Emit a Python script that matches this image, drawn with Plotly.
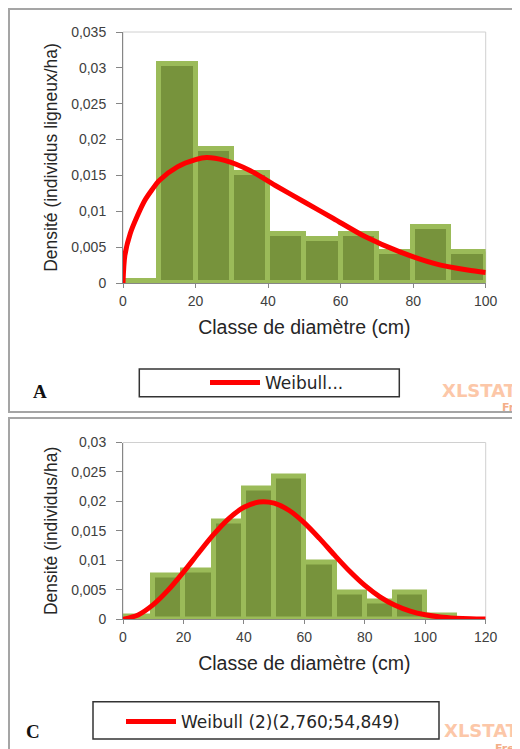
import plotly.graph_objects as go

# ---------------- data ----------------
# Panel A : histogram of diameter classes (lower bound of each 10 cm class)
class_start_A = [0, 10, 20, 30, 40, 50, 60, 70, 80, 90]
density_A = [0.0003, 0.0305, 0.0187, 0.0153, 0.0068, 0.0061, 0.0068, 0.0043, 0.0078, 0.0043]
# fitted Weibull curve of panel A
weibull_x_A = [0, 0.5, 2, 4, 6, 8, 10, 15, 20, 23, 28, 35, 42, 50, 58, 67, 76, 86, 95, 100]
weibull_y_A = [0, 0.0038, 0.0069, 0.0094, 0.0115, 0.0130, 0.0143, 0.0162, 0.0172, 0.0175,
               0.0171, 0.0157, 0.0136, 0.0113, 0.0090, 0.0064, 0.0044, 0.0027, 0.0018, 0.00145]

# Panel C
class_start_C = [0, 10, 20, 30, 40, 50, 60, 70, 80, 90, 100]
density_C = [0.0004, 0.0074, 0.0082, 0.0166, 0.0222, 0.0243, 0.0096, 0.0046, 0.0031, 0.0046, 0.0007]
weibull_x_C = [0, 5, 10, 15, 20, 25, 30, 35, 40, 45, 50, 55, 60, 65, 70, 75, 80, 85, 90, 95,
               100, 105, 110, 115, 120]
weibull_y_C = [0, 0.00074, 0.00249, 0.00499, 0.00801, 0.01126, 0.01440, 0.01709, 0.01900,
               0.01990, 0.01971, 0.01846, 0.01637, 0.01373, 0.01088, 0.00815, 0.00575,
               0.00382, 0.00238, 0.00139, 0.00076, 0.00039, 0.00019, 0.00008, 0.00003]

legend_A = "Weibull..."
legend_C = "Weibull (2)(2,760;54,849)"
label_A = "A"
label_C = "C"
x_title = "Classe de diamètre (cm)"
y_title_A = "Densité (individus ligneux/ha)"
y_title_C = "Densité (individus/ha)"

x_ticks_A = [0, 20, 40, 60, 80, 100]
x_ticks_C = [0, 20, 40, 60, 80, 100, 120]
y_ticks_A = [0, 0.005, 0.01, 0.015, 0.02, 0.025, 0.03, 0.035]
y_ticktext_A = ["0", "0,005", "0,01", "0,015", "0,02", "0,025", "0,03", "0,035"]
y_ticks_C = [0, 0.005, 0.01, 0.015, 0.02, 0.025, 0.03]
y_ticktext_C = ["0", "0,005", "0,01", "0,015", "0,02", "0,025", "0,03"]
class_width = 10

# ---------------- styling ----------------
# The page body keeps its default 8 px margin, so the figure is drawn 8 px
# smaller than the window and every reference pixel position is shifted by 8.
OFF = 8
W, H = 520 - OFF, 749 - OFF
def px(x):
    return (x - OFF) / W
def py(y):
    return 1 - (y - OFF) / H

BAR_FILL = "#77933C"
BAR_LINE = "#9BBB59"
RED = "#FF0000"
AXIS = "#868686"
TXT = "#262626"
TICKFONT = dict(family="Liberation Sans, Arial, sans-serif", size=14, color="#404040")
TITLEFONT = dict(family="Liberation Sans, Arial, sans-serif", size=19.5, color=TXT)

fig = go.Figure()

fig.add_trace(go.Bar(x=class_start_A, y=density_A, width=class_width, offset=0,
                     marker=dict(color=BAR_FILL, line=dict(color=BAR_LINE, width=5)),
                     xaxis="x", yaxis="y", showlegend=False))
fig.add_trace(go.Scatter(x=weibull_x_A, y=weibull_y_A, mode="lines", name=legend_A,
                         line=dict(color=RED, width=5, shape="spline", smoothing=0.8),
                         xaxis="x", yaxis="y", legend="legend"))

fig.add_trace(go.Bar(x=class_start_C, y=density_C, width=class_width, offset=0,
                     marker=dict(color=BAR_FILL, line=dict(color=BAR_LINE, width=5)),
                     xaxis="x2", yaxis="y2", showlegend=False))
fig.add_trace(go.Scatter(x=weibull_x_C, y=weibull_y_C, mode="lines", name=legend_C,
                         line=dict(color=RED, width=5, shape="spline", smoothing=0.8),
                         xaxis="x2", yaxis="y2", legend="legend2"))

xdom = [px(123), px(485.7)]
ydomA = [py(283), py(32)]
ydomC = [py(619.3), py(442.5)]

def xaxis(dom, anchor, ticks, rng):
    return dict(domain=dom, anchor=anchor, range=rng, tickvals=ticks, automargin=False,
                showline=True, linecolor=AXIS, linewidth=1, ticks="outside",
                ticklen=4, tickcolor=AXIS, showgrid=False, zeroline=False,
                tickfont=TICKFONT, ticklabelstandoff=1,
                title=dict(text=x_title, font=TITLEFONT, standoff=12))

def yaxis(dom, anchor, ticks, text, rng, title):
    return dict(domain=dom, anchor=anchor, range=rng, tickvals=ticks, ticktext=text,
                automargin=False,
                showline=True, linecolor=AXIS, linewidth=1, ticks="outside",
                ticklen=6, tickcolor=AXIS, showgrid=False, zeroline=False,
                tickfont=TICKFONT, ticklabelstandoff=7,
                title=dict(text=title, font=dict(TITLEFONT, size=17.5), standoff=9))

def yinner(dom, anchor, over, ticks, rng):
    return dict(domain=dom, anchor=anchor, overlaying=over, range=rng, tickvals=ticks,
                automargin=False,
                showticklabels=False, showline=False, ticks="inside", ticklen=5,
                tickcolor=AXIS, showgrid=False, zeroline=False, side="left")

fig.update_layout(
    width=W, height=H, margin=dict(l=0, r=0, t=0, b=0, pad=0, autoexpand=False),
    paper_bgcolor="white", plot_bgcolor="white",
    bargap=0, separators=", ",
    xaxis=xaxis(xdom, "y", x_ticks_A, [0, 100]),
    yaxis=yaxis(ydomA, "x", y_ticks_A, y_ticktext_A, [0, 0.035], y_title_A),
    xaxis2=xaxis(xdom, "y2", x_ticks_C, [0, 120]),
    yaxis2=yaxis(ydomC, "x2", y_ticks_C, y_ticktext_C, [0, 0.03], y_title_C),
    yaxis3=yinner(ydomA, "x", "y", y_ticks_A, [0, 0.035]),
    yaxis4=yinner(ydomC, "x2", "y2", y_ticks_C, [0, 0.03]),
    legend=dict(x=px(205), y=py(383), xanchor="left", yanchor="middle",
                bgcolor="rgba(0,0,0,0)", borderwidth=0, itemwidth=50,
                font=dict(family="DejaVu Sans, sans-serif", size=17, color=TXT)),
    legend2=dict(x=px(121), y=py(722), xanchor="left", yanchor="middle",
                 bgcolor="rgba(0,0,0,0)", borderwidth=0, itemwidth=50,
                 font=dict(family="DejaVu Sans, sans-serif", size=17, color=TXT)),
)

shapes = [
    # panel frames
    dict(type="rect", xref="paper", yref="paper", x0=px(9), x1=1.05, y0=py(412), y1=py(9),
         line=dict(color="#A5A5A5", width=2), layer="below"),
    dict(type="rect", xref="paper", yref="paper", x0=px(9), x1=1.05, y0=-0.05, y1=py(418),
         line=dict(color="#A5A5A5", width=2), layer="below"),
    # plot-area borders
    dict(type="rect", xref="x domain", yref="y domain", x0=0, x1=1, y0=0, y1=1,
         line=dict(color="#D0D0D0", width=1), layer="below"),
    dict(type="rect", xref="x2 domain", yref="y2 domain", x0=0, x1=1, y0=0, y1=1,
         line=dict(color="#D0D0D0", width=1), layer="below"),
    # legend boxes
    dict(type="rect", xref="paper", yref="paper", x0=px(139.3), x1=px(399.3),
         y0=py(396.7), y1=py(369), line=dict(color="#333333", width=1.5)),
    dict(type="rect", xref="paper", yref="paper", x0=px(93), x1=px(439),
         y0=py(739), y1=py(701.7), line=dict(color="#333333", width=1.5)),
]
fig.update_layout(shapes=shapes)

serif_bold = dict(family="Liberation Serif, Times New Roman, serif", size=19, color="#111111")
wm1 = dict(family="DejaVu Sans, sans-serif", size=18, color="#FCC7A8")
wm2 = dict(family="DejaVu Sans, sans-serif", size=11, color="#F4AE88")
annotations = [
    dict(text="<b>" + label_A + "</b>", x=px(40), y=py(391), xref="paper", yref="paper",
         showarrow=False, font=serif_bold, xanchor="center", yanchor="middle"),
    dict(text="<b>" + label_C + "</b>", x=px(33), y=py(731), xref="paper", yref="paper",
         showarrow=False, font=serif_bold, xanchor="center", yanchor="middle"),
    dict(text="<b>XLSTAT</b>", x=px(440), y=py(390), xref="paper", yref="paper",
         showarrow=False, font=wm1, xanchor="left", yanchor="middle"),
    dict(text="<b>Free</b>", x=px(500), y=py(407), xref="paper", yref="paper",
         showarrow=False, font=wm2, xanchor="left", yanchor="middle"),
    dict(text="<b>XLSTAT</b>", x=px(442), y=py(730), xref="paper", yref="paper",
         showarrow=False, font=wm1, xanchor="left", yanchor="middle"),
    dict(text="<b>Free</b>", x=px(493), y=py(748), xref="paper", yref="paper",
         showarrow=False, font=wm2, xanchor="left", yanchor="middle"),
]
fig.update_layout(annotations=annotations)

fig.write_html("out.html")
